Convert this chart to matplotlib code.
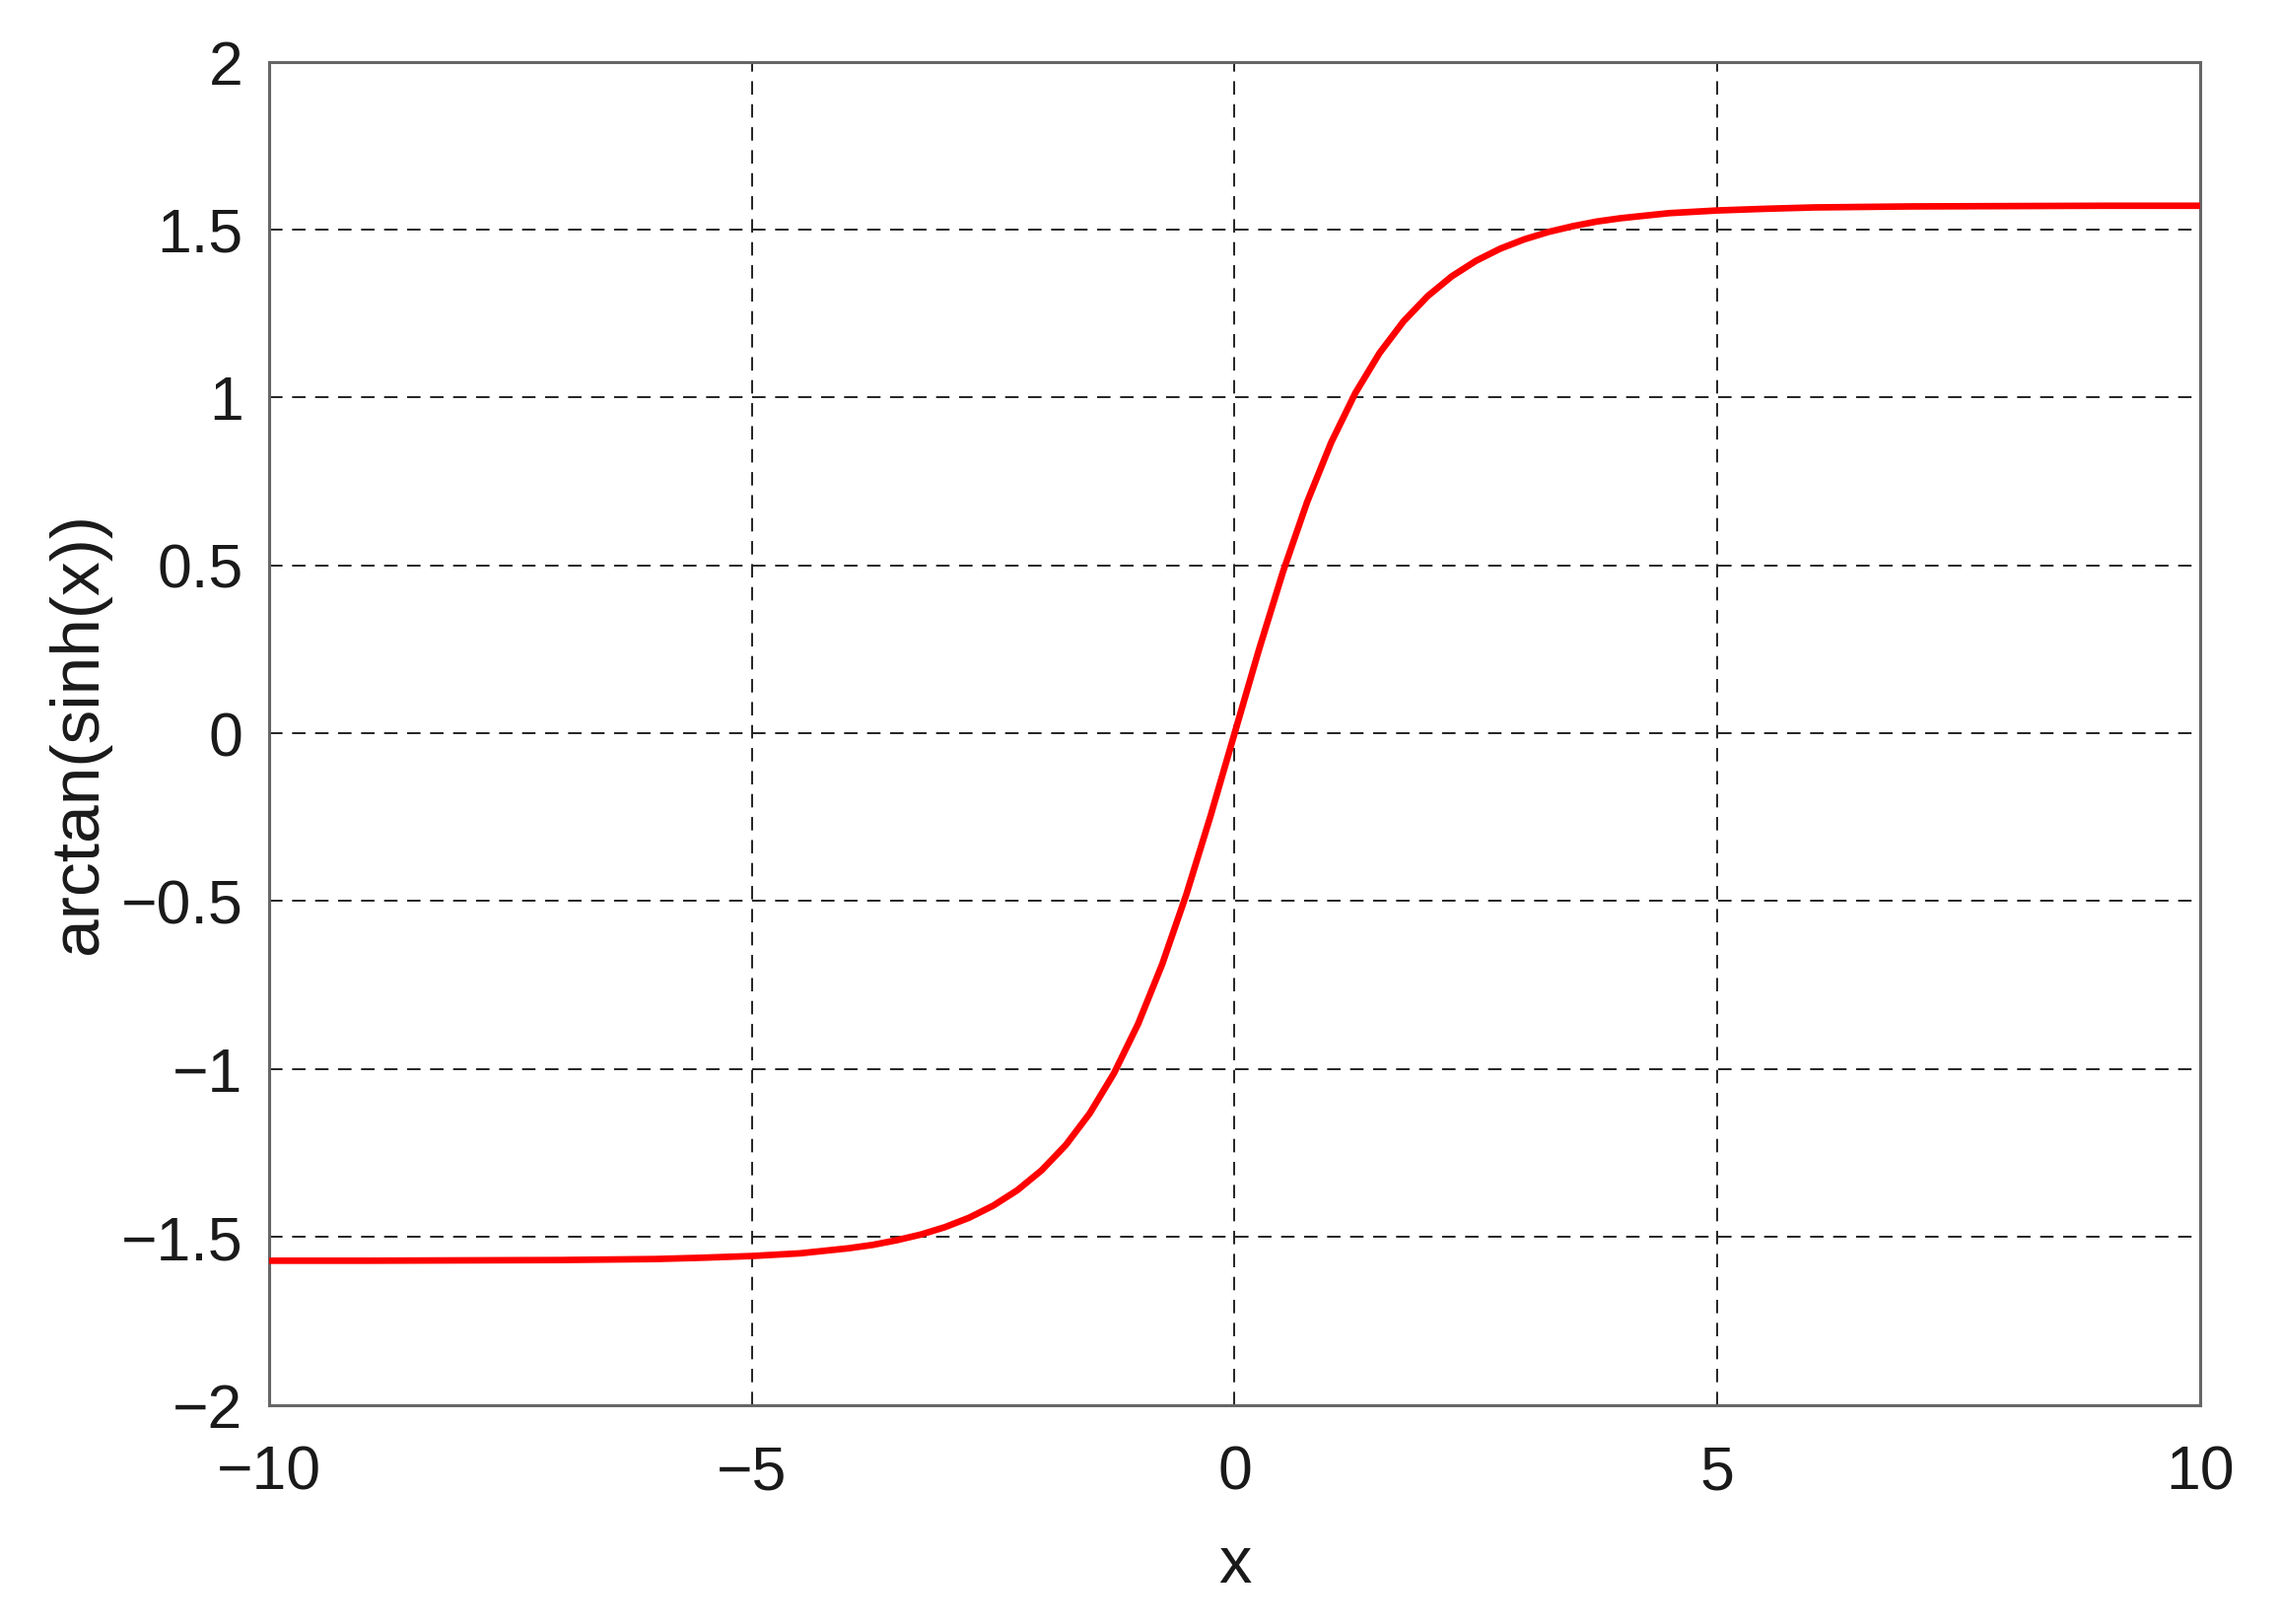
import matplotlib
matplotlib.use("Agg")
import matplotlib.pyplot as plt
from matplotlib.ticker import FuncFormatter

# curve values
x_vals = [-10, -9, -8, -7, -6, -5.5, -5, -4.5, -4, -3.75, -3.5, -3.25, -3, -2.75, -2.5,
          -2.25, -2, -1.75, -1.5, -1.25, -1, -0.75, -0.5, -0.25, 0, 0.25, 0.5, 0.75, 1,
          1.25, 1.5, 1.75, 2, 2.25, 2.5, 2.75, 3, 3.25, 3.5, 3.75, 4, 4.5, 5, 5.5, 6,
          7, 8, 9, 10]
y_vals = [-1.571, -1.571, -1.570, -1.569, -1.566, -1.562, -1.557, -1.549, -1.534, -1.524,
          -1.510, -1.493, -1.471, -1.443, -1.407, -1.361, -1.302, -1.227, -1.132, -1.013,
          -0.866, -0.688, -0.480, -0.247, 0.0, 0.247, 0.480, 0.688, 0.866, 1.013, 1.132,
          1.227, 1.302, 1.361, 1.407, 1.443, 1.471, 1.493, 1.510, 1.524, 1.534, 1.549,
          1.557, 1.562, 1.566, 1.569, 1.570, 1.571, 1.571]

x_ticks = [-10, -5, 0, 5, 10]
y_ticks = [-2, -1.5, -1, -0.5, 0, 0.5, 1, 1.5, 2]

plt.rcParams['font.family'] = ['Liberation Sans', 'DejaVu Sans']

fig = plt.figure(figsize=(23.13, 16.48), dpi=100)
ax = fig.add_axes([0.118, 0.135, 0.847, 0.827])

ax.plot(x_vals, y_vals, color='#ff0000', linewidth=4.8, zorder=3,
        solid_joinstyle='round')

ax.set_xlim(-10, 10)
ax.set_ylim(-2, 2)
ax.set_xticks(x_ticks)
ax.set_yticks(y_ticks)

fmt = FuncFormatter(lambda v, pos: ('%g' % v).replace('-', '\u2212'))
ax.xaxis.set_major_formatter(fmt)
ax.yaxis.set_major_formatter(fmt)

ax.grid(True, color='#222222', linestyle=(0, (7, 5)), linewidth=1.4, zorder=1)
ax.tick_params(axis='both', length=0, labelsize=45, colors='#1a1a1a')
ax.tick_params(axis='x', pad=29)
ax.tick_params(axis='y', pad=19)

for s in ax.spines.values():
    s.set_color('#666666')
    s.set_linewidth(2.2)

ax.set_xlabel('x', fontsize=48, color='#1a1a1a', labelpad=24)
ax.set_ylabel('arctan(sinh(x))', fontsize=50, color='#1a1a1a', labelpad=8)

fig.savefig('out.png', dpi=100, facecolor='white')
